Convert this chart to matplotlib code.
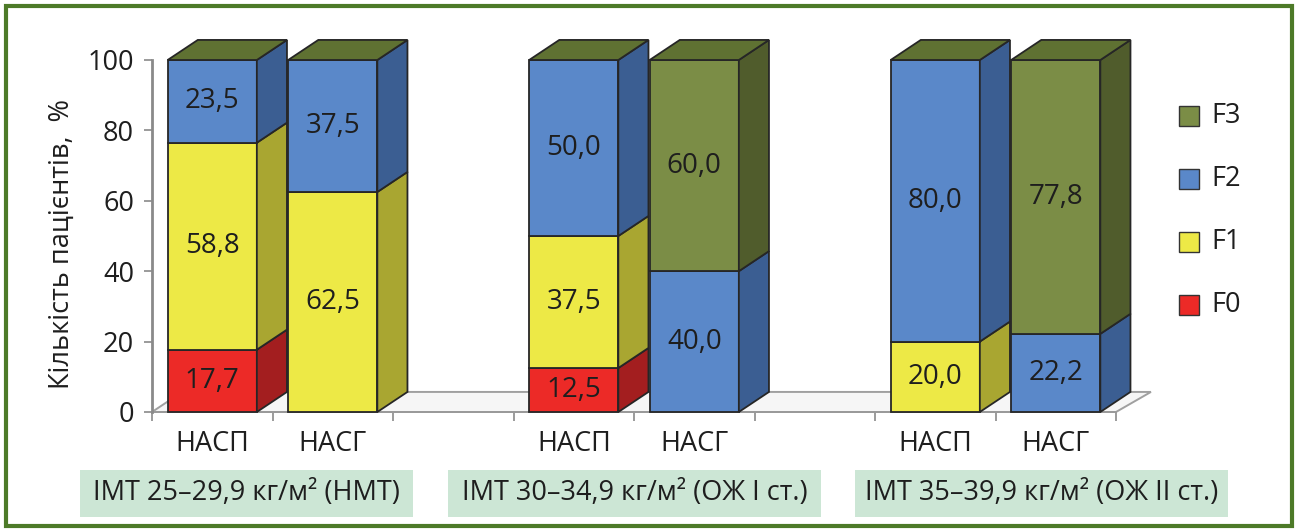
import matplotlib
matplotlib.use("Agg")
import matplotlib.pyplot as plt
from matplotlib.patches import Rectangle, Polygon

plt.rcParams['font.family'] = ['Open Sans', 'DejaVu Sans']

# stacked shares (%) per bar, groups separated by an empty slot
bar_labels = ['НАСП', 'НАСГ', 'НАСП', 'НАСГ', 'НАСП', 'НАСГ']
bar_slots = [0, 1, 3, 4, 6, 7]
group_labels = ['ІМТ 25–29,9 кг/м² (НМТ)',
                'ІМТ 30–34,9 кг/м² (ОЖ І ст.)',
                'ІМТ 35–39,9 кг/м² (ОЖ ІІ ст.)']
f0 = [17.7, 0, 12.5, 0, 0, 0]
f1 = [58.8, 62.5, 37.5, 0, 20.0, 0]
f2 = [23.5, 37.5, 50.0, 40.0, 80.0, 22.2]
f3 = [0, 0, 0, 60.0, 0, 77.8]
series_names = ['F0', 'F1', 'F2', 'F3']

front_cols = ['#ec2a27', '#ede946', '#5a88c9', '#7b8d46']
side_cols = ['#a31e1f', '#a9a631', '#3b5e92', '#505c2c']
top_col = '#5f7132'
edge = '#262626'
txt = '#1e1e1e'

W, H = 1298, 532
fig = plt.figure(figsize=(W / 100, H / 100), dpi=100)
ax = fig.add_axes([152 / W, 1 - 412 / H, (1116 - 152) / W, (412 - 60) / H])
ax.set_xlim(-0.5, 7.5)
ax.set_ylim(0, 100)

# 3d depth offsets in data units
dx, dy = 0.25, 5.7
bw = 0.74

# floor
floor = Polygon([(-0.5, 0), (7.5, 0), (7.5 + dx + 0.04, dy), (-0.5 + dx, dy)],
                closed=True, fc='#f6f6f6', ec='#a0a0a0', lw=1.4, zorder=1, clip_on=False)
ax.add_patch(floor)

series = [f0, f1, f2, f3]
z = 3
for i, x in enumerate(bar_slots):
    bottom = 0
    for k, vals in enumerate(series):
        v = vals[i]
        if v <= 0:
            continue
        top = bottom + v
        ax.add_patch(Rectangle((x - bw / 2, bottom), bw, v, fc=front_cols[k], ec=edge,
                               lw=1.3, zorder=z, clip_on=False))
        ax.add_patch(Polygon([(x + bw / 2, bottom), (x + bw / 2 + dx, bottom + dy),
                              (x + bw / 2 + dx, top + dy), (x + bw / 2, top)],
                             closed=True, fc=side_cols[k], ec=edge, lw=1.3, zorder=z,
                             clip_on=False))
        ax.text(x, bottom + v / 2, f'{v:.1f}'.replace('.', ','), ha='center', va='center',
                fontsize=20, color=txt, zorder=z + 1)
        bottom = top
    ax.add_patch(Polygon([(x - bw / 2, bottom), (x - bw / 2 + dx, bottom + dy),
                          (x + bw / 2 + dx, bottom + dy), (x + bw / 2, bottom)],
                         closed=True, fc=top_col, ec=edge, lw=1.3, zorder=z, clip_on=False))
    z += 2

for s in ['top', 'right']:
    ax.spines[s].set_visible(False)
ax.spines['left'].set_color('#8a8a8a')
ax.spines['left'].set_linewidth(2)
ax.spines['bottom'].set_color('#9a9a9a')
ax.spines['bottom'].set_linewidth(1.4)
ax.spines['bottom'].set_zorder(2)

ax.set_yticks(range(0, 101, 20))
ax.tick_params(axis='y', length=6, width=1.2, color='#8a8a8a', pad=7, labelsize=19.5,
               labelcolor=txt)
ax.set_xticks([s - 0.5 for s in range(9)])
ax.set_xticklabels([])
ax.tick_params(axis='x', which='major', length=6.5, width=1.2, color='#8a8a8a')
ax.set_xticks(bar_slots, minor=True)
ax.set_xticklabels(bar_labels, minor=True)
ax.tick_params(axis='x', which='minor', length=0, pad=13, labelsize=19.5, labelcolor=txt)
ax.patch.set_visible(False)

fig.text(62 / W, 1 - 244 / H, 'Кількість пацієнтів,  %', rotation=90, ha='center',
         va='center', fontsize=19.5, color=txt)

# group captions on light green boxes
boxes = [(80, 413), (448, 821), (855, 1228)]
for (x0, x1), lab in zip(boxes, group_labels):
    fig.add_artist(Rectangle((x0 / W, 1 - 517 / H), (x1 - x0) / W, 47 / H,
                             transform=fig.transFigure, fc='#cce6d5', ec='none'))
    fig.text((x0 + x1) / 2 / W, 1 - 493 / H, lab, ha='center', va='center',
             fontsize=19.5, color=txt)

# legend, F3 on top
for j, k in enumerate([3, 2, 1, 0]):
    yc = 116 + j * 63
    fig.add_artist(Rectangle((1179 / W, 1 - (yc + 10) / H), 20 / W, 20 / H,
                             transform=fig.transFigure, fc=front_cols[k], ec='#333333', lw=1))
    fig.text(1211 / W, 1 - yc / H, series_names[k], ha='left', va='center',
             fontsize=19.5, color=txt)

# outer frame
fig.add_artist(Rectangle((6 / W, 6 / H), (W - 12) / W, (H - 12) / H,
                         transform=fig.transFigure, fill=False, ec='#4d7a28', lw=3))

fig.savefig('out.png', dpi=100)
